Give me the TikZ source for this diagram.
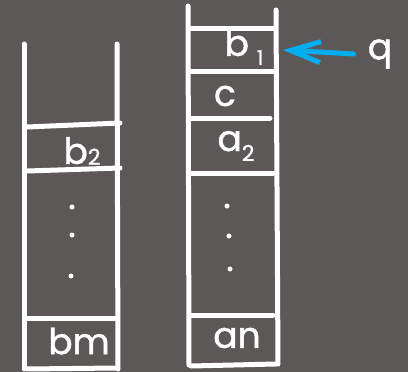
\documentclass[tikz,border=0pt]{standalone}
\usepackage{fontspec}
\setmainfont{Poppins}[FakeBold=1.2]
\usetikzlibrary{arrows.meta}
\definecolor{bgc}{RGB}{92,88,87}
\definecolor{qblue}{RGB}{0,174,239}
\tikzset{
  wall/.style={draw=white,line width=5pt,line cap=round},
  lbl/.style={text=white,font=\fontsize{36}{38}\selectfont,inner sep=0pt},
  dotmark/.style={circle,fill=white,inner sep=0pt,minimum size=5pt},
  ptr/.style={draw=qblue,line width=5pt,line cap=round,-{Straight Barb[length=30pt,width=21pt,line width=5pt]}}
}
\begin{document}
\begin{tikzpicture}[x=1pt,y=-1pt]
\fill[bgc] (0,0) rectangle (408,372);
\useasboundingbox (0,0) rectangle (408,372);
% left stack
\draw[wall] (24,44) -- (24,369);
\draw[wall] (117,44) -- (118,369);
\draw[wall] (27,127) -- (120,123);
\draw[wall] (27,171) -- (120,168);
\draw[wall] (27,318) -- (115,318);
\draw[wall] (27,369) -- (117,368);
% right stack
\draw[wall] (188,6) -- (189,365);
\draw[wall] (276,10) -- (278,364);
\draw[wall] (191,28) -- (275,28);
\draw[wall] (191,71) -- (273,71);
\draw[wall] (189,118) -- (270,118);
\draw[wall] (191,173) -- (273,173);
\draw[wall] (191,315) -- (273,315);
\draw[wall] (191,366) -- (276,364);
% labels left
\node[lbl] (b2) at (82,151) {b\raisebox{-1pt}{\fontsize{22}{22}\selectfont 2}};
\node[lbl] (bm) at (79,341) {bm};
\node[dotmark] (ld1) at (72,207) {};
\node[dotmark] (ld2) at (72,235) {};
\node[dotmark] (ld3) at (71,276) {};
% labels right
\node[lbl] (b1) at (244,47) {b\hspace{8pt}\raisebox{-9pt}{\fontsize{20}{20}\selectfont 1}};
\node[lbl] (c) at (225,96) {c};
\node[lbl] (a2) at (236,146) {a\raisebox{-10pt}{\fontsize{22}{22}\selectfont 2}};
\node[lbl] (an) at (237,338) {an};
\node[dotmark] (rd1) at (227,206) {};
\node[dotmark] (rd2) at (229,236) {};
\node[dotmark] (rd3) at (230,269) {};
% pointer
\node[lbl] (q) at (380,54) {q};
\coordinate (qtip) at (283,50);
\draw[ptr] ([xshift=-14pt]q.west) -- (qtip);
\end{tikzpicture}
\end{document}
